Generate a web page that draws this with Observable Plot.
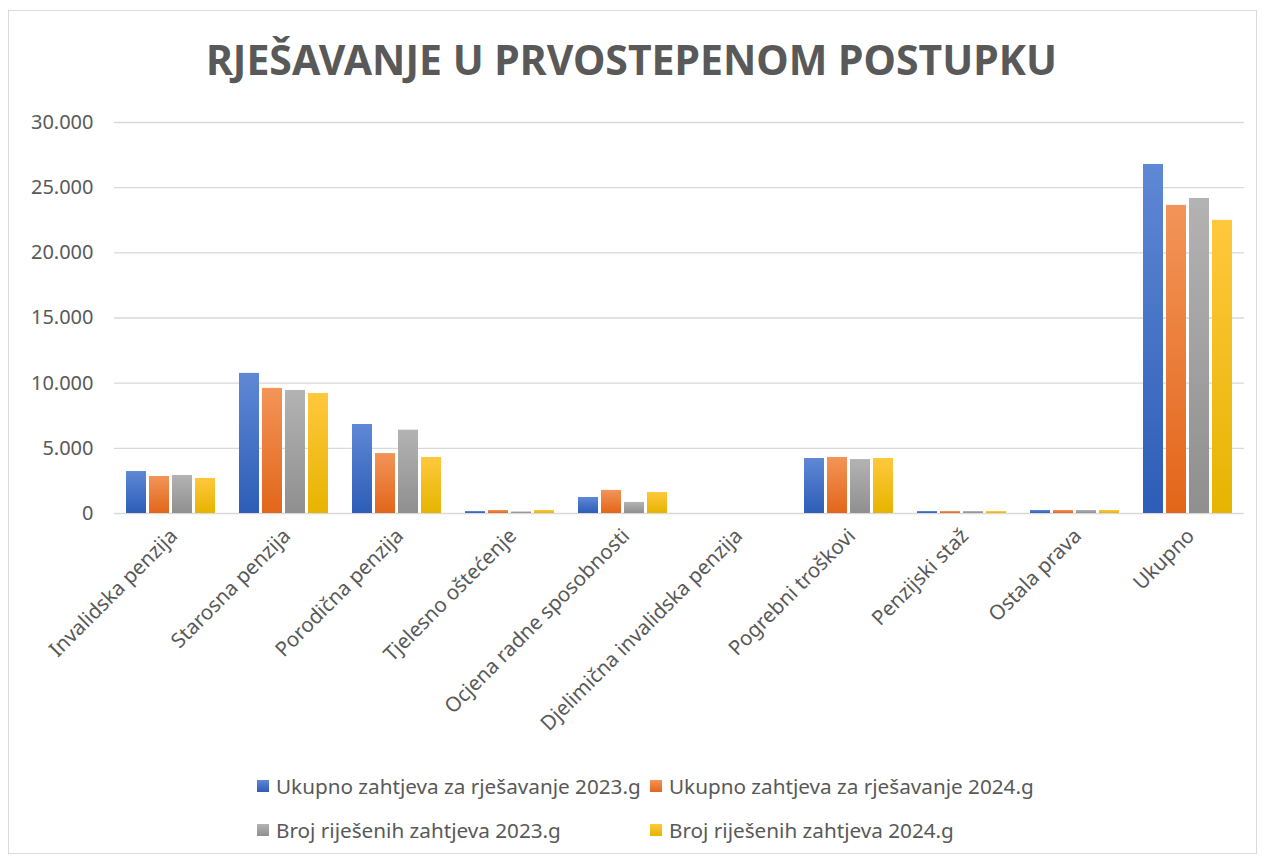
<!DOCTYPE html>
<html>
<head>
<meta charset="utf-8">
<script src="https://cdn.jsdelivr.net/npm/d3@7"></script>
<script src="https://cdn.jsdelivr.net/npm/@observablehq/plot@0.6"></script>
<style>
  html, body { margin: 0; padding: 0; background: #fff; }
  #wrap { position: relative; width: 1262px; height: 860px; overflow: hidden; font-family: "Noto Sans", sans-serif; color: #595959; }
  #border { position: absolute; left: 8px; top: 10px; width: 1249px; height: 844px; border: 1px solid #d9d9d9; box-sizing: border-box; }
  #title { position: absolute; left: 0; top: 34px; width: 1262px; text-align: center; font-weight: 700; font-size: 41px; line-height: 50px; color: #595959; white-space: nowrap; }
  #title span { display: inline-block; transform-origin: center; }
  #chart { position: absolute; left: 0; top: 100px; }
  #legend { position: absolute; left: 257px; top: 773px; display: grid; grid-template-columns: 393px 393px; row-gap: 18px; font-size: 20.7px; }
  .item { display: flex; align-items: center; height: 26px; white-space: nowrap; }
  .sw { width: 12px; height: 12px; margin-right: 7px; flex: none; }
</style>
</head>
<body>
<div id="wrap">
  <div id="border"></div>
  <div id="title"><span>RJEŠAVANJE U PRVOSTEPENOM POSTUPKU</span></div>
  <div id="chart"></div>
  <div id="legend"></div>
</div>
<script>
const categories = ["Invalidska penzija","Starosna penzija","Porodična penzija","Tjelesno oštećenje","Ocjena radne sposobnosti","Djelimična invalidska penzija","Pogrebni troškovi","Penzijski staž","Ostala prava","Ukupno"];
const seriesNames = ["Ukupno zahtjeva za rješavanje 2023.g","Ukupno zahtjeva za rješavanje 2024.g","Broj riješenih zahtjeva 2023.g","Broj riješenih zahtjeva 2024.g"];
const req2023 = [3220,10750,6830,150,1230,0,4220,150,230,26780];
const req2024 = [2840,9600,4600,230,1770,0,4300,150,230,23640];
const sol2023 = [2920,9440,6390,120,850,0,4140,150,230,24170];
const sol2024 = [2690,9210,4300,230,1610,0,4220,150,230,22490];
const yTicks = [0,5000,10000,15000,20000,25000,30000];

const seriesValues = [req2023, req2024, sol2023, sol2024];
const gradTop = ["#5f88d6","#f39458","#b3b3b3","#ffc83d"];
const gradBot = ["#2d5db6","#e2661a","#8f8f8f","#e6b400"];

const data = seriesValues.flatMap((vals, s) => categories.map((c, i) => ({cat: c, series: seriesNames[s], s, value: vals[i]})));

const fmt = d3.formatLocale({decimal: ",", thousands: ".", grouping: [3], currency: ["", ""]}).format(",d");

const plot = Plot.plot({
  width: 1262,
  height: 680,
  marginLeft: 113,
  marginRight: 17,
  marginTop: 22,
  marginBottom: 267,
  style: {fontFamily: "Noto Sans, sans-serif", color: "#595959", background: "transparent", overflow: "visible"},
  fx: {domain: categories, padding: 0, label: null, axis: null},
  x: {domain: seriesNames, paddingInner: 0.125, paddingOuter: 0.42, axis: null},
  y: {domain: [0, 30000], label: null},
  marks: [
    Plot.ruleY(yTicks, {stroke: "#d9d9d9", strokeWidth: 1.3}),
    ...seriesNames.map((name, s) => Plot.barY(data.filter(d => d.s === s), {
      fx: "cat", x: "series", y: "value", fill: `url(#grad${s})`,
      style: {filter: "drop-shadow(0px 0px 2px rgba(0,0,0,0.22))"}
    })),
    Plot.axisY({ticks: yTicks, tickSize: 0, tickPadding: 21, tickFormat: fmt, fontSize: 20, label: null, fill: "#595959"}),
    Plot.axisFx({anchor: "bottom", tickSize: 0, tickPadding: 19, dx: 3, tickRotate: -45, fontSize: 20.5, label: null, fill: "#595959"})
  ]
});

// gradient definitions
const ns = "http://www.w3.org/2000/svg";
const defs = document.createElementNS(ns, "defs");
seriesNames.forEach((n, s) => {
  const g = document.createElementNS(ns, "linearGradient");
  g.setAttribute("id", `grad${s}`);
  g.setAttribute("x1", "0"); g.setAttribute("y1", "0"); g.setAttribute("x2", "0"); g.setAttribute("y2", "1");
  const s1 = document.createElementNS(ns, "stop"); s1.setAttribute("offset", "0"); s1.setAttribute("stop-color", gradTop[s]);
  const s2 = document.createElementNS(ns, "stop"); s2.setAttribute("offset", "1"); s2.setAttribute("stop-color", gradBot[s]);
  g.appendChild(s1); g.appendChild(s2); defs.appendChild(g);
});
plot.insertBefore(defs, plot.firstChild);
document.getElementById("chart").appendChild(plot);

// legend
const legend = document.getElementById("legend");
seriesNames.forEach((n, s) => {
  const it = document.createElement("div"); it.className = "item";
  const sw = document.createElement("span"); sw.className = "sw";
  sw.style.background = `linear-gradient(${gradTop[s]}, ${gradBot[s]})`;
  const tx = document.createElement("span"); tx.textContent = n;
  it.appendChild(sw); it.appendChild(tx); legend.appendChild(it);
});

// fit title width to reference
const t = document.querySelector("#title span");
const w = t.getBoundingClientRect().width;
t.style.transform = `scaleX(${851 / w})`;
</script>
</body>
</html>
